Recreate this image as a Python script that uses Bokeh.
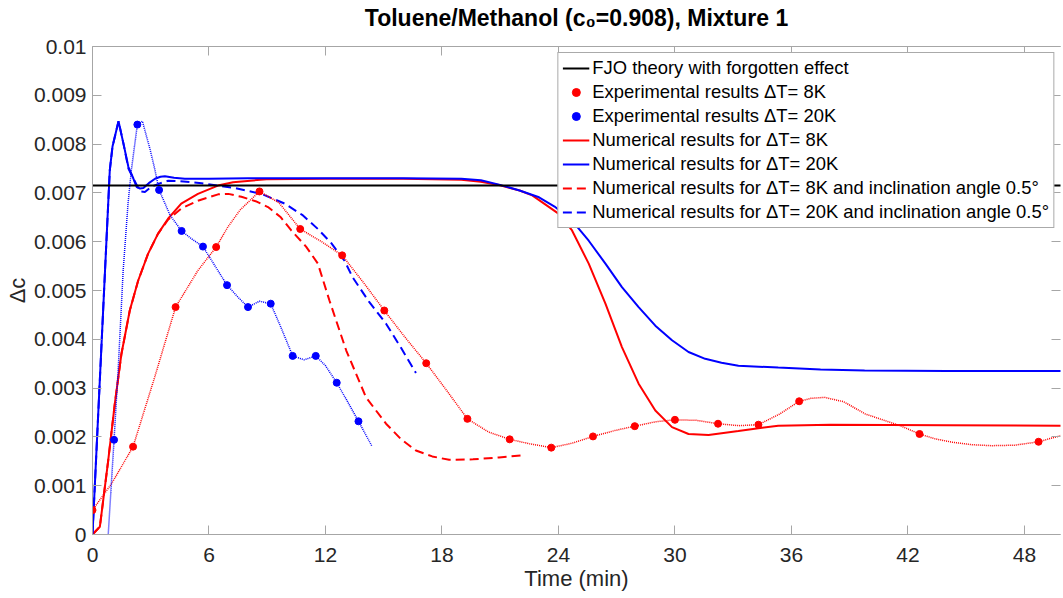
from bokeh.plotting import figure
from bokeh.models import (Range1d, LinearAxis, FixedTicker, NumeralTickFormatter, Legend,
                          LegendItem, CustomLabelingPolicy)
from bokeh.embed import file_html
from bokeh.resources import INLINE

# ---------------- data ----------------
title_text = "Toluene/Methanol (c\u2080=0.908), Mixture 1"
x_ticks = [0, 6, 12, 18, 24, 30, 36, 42, 48]
y_ticks = [0, 0.001, 0.002, 0.003, 0.004, 0.005, 0.006, 0.007, 0.008, 0.009, 0.01]

fjo_t = [0, 50]
fjo_c = [0.00715, 0.00715]

exp8_t = [0, 2.09, 4.28, 6.37, 8.6, 10.7, 12.86, 15.03, 17.19, 19.31, 21.49, 23.63,
          25.78, 27.93, 30.0, 32.22, 34.3, 36.4, 42.6, 48.73]
exp8_c = [0.0005, 0.0018, 0.00466, 0.00589, 0.00703, 0.00626, 0.00572, 0.00459, 0.00351,
          0.00237, 0.00195, 0.00178, 0.00201, 0.00222, 0.00235, 0.00227, 0.00225,
          0.00273, 0.00206, 0.0019]

exp8_trace_t = [0, 0.98, 2.09, 3.2, 4.28, 5.43, 6.37, 6.97, 7.6, 8.6, 9.6, 10.7, 11.8, 12.86,
                14.0, 15.03, 16.1, 17.19, 18.3, 19.31, 20.4, 21.49, 22.5, 23.63, 24.7, 25.78,
                26.9, 27.93, 29.0, 30.0, 31.1, 32.22, 33.3, 34.3, 35.4, 36.4, 37.0, 37.7,
                38.7, 39.8, 41.6, 42.6, 43.4, 44.3, 45.3, 46.3, 47.5, 48.73, 49.9]
exp8_trace_c = [0.0005, 0.00104, 0.0018, 0.00322, 0.00466, 0.00541, 0.00589, 0.0063, 0.00665,
                0.00703, 0.0068, 0.00626, 0.006, 0.00572, 0.00514, 0.00459, 0.00404, 0.00351,
                0.00292, 0.00237, 0.0021, 0.00195, 0.00186, 0.00178, 0.00187, 0.00201,
                0.00213, 0.00222, 0.00231, 0.00235, 0.00234, 0.00227, 0.00223, 0.00225,
                0.00247, 0.00273, 0.00279, 0.00281, 0.00272, 0.00247, 0.00223, 0.00206,
                0.00196, 0.00189, 0.00184, 0.00182, 0.00183, 0.0019, 0.00203]

exp20_t = [1.11, 2.31, 3.43, 4.59, 5.69, 6.93, 8.01, 9.18, 10.31, 11.5, 12.58, 13.7]
exp20_c = [0.00194, 0.0084, 0.00706, 0.00622, 0.0059, 0.00511, 0.00466, 0.00473, 0.00366,
           0.00366, 0.00311, 0.00232]

exp20_trace_t = [0.81, 1.11, 1.32, 1.58, 1.83, 2.0, 2.31, 2.57, 2.96, 3.2, 3.43, 4.0, 4.59,
                 5.1, 5.69, 6.3, 6.93, 7.5, 8.01, 8.6, 9.18, 9.7, 10.31, 10.9, 11.5, 12.0,
                 12.58, 13.1, 13.7, 14.38]
exp20_trace_c = [0.0, 0.00194, 0.00336, 0.00541, 0.00678, 0.00746, 0.0084, 0.00847, 0.0079,
                 0.0075, 0.00706, 0.00654, 0.00622, 0.00606, 0.0059, 0.00551, 0.00511, 0.00486,
                 0.00466, 0.00478, 0.00473, 0.00425, 0.00366, 0.00358, 0.00366, 0.00346,
                 0.00311, 0.00275, 0.00232, 0.00182]

num8_t = [0, 0.38, 0.81, 1.15, 1.49, 1.92, 2.35, 2.86, 3.37, 3.89, 4.57, 5.43, 6.46, 7.24,
          8.96, 12, 16, 19, 20.0, 20.94, 22.0, 22.65, 23.3, 24.02, 24.7, 25.56, 26.42, 27.27,
          28.13, 28.99, 29.85, 30.7, 31.73, 33.27, 35.32, 38, 44, 50]
num8_c = [0, 0.00016, 0.00152, 0.00268, 0.0037, 0.00459, 0.0052, 0.00575, 0.00616, 0.00647,
          0.00678, 0.00698, 0.00715, 0.00722, 0.00728, 0.00729, 0.00729, 0.00727, 0.00723,
          0.00716, 0.00705, 0.00695, 0.00677, 0.00657, 0.00623, 0.00555, 0.00473, 0.00384,
          0.00309, 0.00254, 0.0022, 0.00206, 0.00204, 0.00212, 0.00223, 0.00225, 0.00224,
          0.00223]

num20_t = [0, 0.89, 1.03, 1.34, 1.6, 1.85, 2.1, 2.28, 2.45, 2.62, 2.9, 3.22, 3.5, 3.73, 4.2,
           4.76, 6, 8, 12, 16, 19, 20.0, 20.94, 22.0, 23.0, 23.8, 24.7, 25.56, 26.42, 27.27,
           28.13, 28.99, 29.85, 30.7, 31.56, 32.4, 33.27, 35.32, 37.5, 39.77, 44, 50]
num20_c = [0, 0.00746, 0.00795, 0.00847, 0.008, 0.00753, 0.0073, 0.00712, 0.00709, 0.0071,
           0.0072, 0.00729, 0.00733, 0.00734, 0.00731, 0.00729, 0.00729, 0.0073, 0.0073,
           0.0073, 0.00729, 0.00726, 0.00717, 0.00705, 0.00691, 0.00672, 0.00643, 0.00602,
           0.00555, 0.00507, 0.00466, 0.00428, 0.00398, 0.00374, 0.0036, 0.00352, 0.00346,
           0.00342, 0.00338, 0.00336, 0.00335, 0.00335]

num8_incl_t = [0, 0.38, 0.81, 1.15, 1.49, 1.92, 2.35, 2.86, 3.37, 3.89, 4.57, 5.43, 6.47,
               7.0, 7.67, 8.4, 9.04, 9.7, 10.24, 11.0, 11.61, 12.2, 13.07, 14.09, 15.12,
               15.9, 16.66, 17.5, 18.37, 19.6, 20.94, 22.14]
num8_incl_c = [0, 0.00016, 0.00152, 0.00268, 0.0037, 0.00459, 0.0052, 0.00575, 0.00616,
               0.00645, 0.00668, 0.00684, 0.00697, 0.00698, 0.00692, 0.00683, 0.00671,
               0.0065, 0.00623, 0.0059, 0.00555, 0.0048, 0.00377, 0.00281, 0.00227, 0.00195,
               0.00172, 0.0016, 0.00153, 0.00154, 0.00158, 0.00162]

num20_incl_t = [0, 0.89, 1.03, 1.34, 1.6, 1.85, 2.1, 2.45, 2.7, 3.05, 3.5, 3.9, 4.5, 5.62,
                7.33, 8.7, 9.9, 10.8, 11.61, 12.3, 12.98, 13.4, 14.26, 15.12, 15.9, 16.66]
num20_incl_c = [0, 0.00746, 0.00795, 0.00847, 0.008, 0.0075, 0.0073, 0.00703, 0.00702,
                0.00713, 0.0072, 0.00725, 0.00724, 0.0072, 0.0071, 0.00698, 0.00678, 0.00655,
                0.00626, 0.00597, 0.00561, 0.00527, 0.00476, 0.00432, 0.00382, 0.00331]

# ---------------- styling ----------------
FONT = "Liberation Sans"
RED = "#ff0000"
BLUE = "#0000ff"
AXIS_COL = "#a6a6a6"
TXT_COL = "#262626"

p = figure(width=1063, height=598, output_backend="svg", toolbar_location=None,
           x_range=Range1d(0, 49.86), y_range=Range1d(0, 0.01),
           min_border_left=92, min_border_right=0, min_border_top=46, min_border_bottom=64)

p.xgrid.visible = False
p.ygrid.visible = False
p.outline_line_color = None
p.background_fill_color = "white"
p.border_fill_color = "white"

hide_labels = CustomLabelingPolicy(code="for (const i of indices) { indices.unset(i) }; return indices")

def style_axis(ax, labels=True):
    ax.axis_line_color = AXIS_COL
    ax.major_tick_line_color = AXIS_COL
    ax.minor_tick_line_color = None
    ax.major_tick_in = 9
    ax.major_tick_out = 0
    ax.major_label_text_font = FONT
    ax.major_label_text_color = TXT_COL
    if labels:
        ax.major_label_text_font_size = "21px"
    else:
        ax.major_label_text_font_size = "0.1px"
        ax.major_label_standoff = 0
        ax.major_label_policy = hide_labels

p.xaxis.ticker = FixedTicker(ticks=x_ticks)
p.yaxis.ticker = FixedTicker(ticks=y_ticks)
p.yaxis.formatter = NumeralTickFormatter(format="0.[000]")
style_axis(p.xaxis[0])
style_axis(p.yaxis[0])
p.xaxis.axis_label = "Time (min)"
p.yaxis.axis_label = "\u0394c"
for ax in (p.xaxis[0], p.yaxis[0]):
    ax.axis_label_text_font = FONT
    ax.axis_label_text_font_size = "22px"
    ax.axis_label_text_font_style = "normal"
    ax.axis_label_text_color = TXT_COL
p.xaxis.axis_label_standoff = 1
p.yaxis.axis_label_standoff = 1
p.xaxis.major_label_standoff = 13
p.yaxis.major_label_standoff = 6

# top box axis, which also carries the chart title as its label
top_ax = LinearAxis(ticker=FixedTicker(ticks=x_ticks))
style_axis(top_ax, labels=False)
top_ax.axis_label = title_text
top_ax.axis_label_text_font = FONT
top_ax.axis_label_text_font_size = "23px"
top_ax.axis_label_text_font_style = "bold"
top_ax.axis_label_text_color = "#000000"
top_ax.axis_label_standoff = 16
p.add_layout(top_ax, "above")

right_ax = LinearAxis(ticker=FixedTicker(ticks=y_ticks))
style_axis(right_ax, labels=False)
right_ax.axis_line_color = None
p.add_layout(right_ax, "right")

# ---------------- glyphs ----------------
r_n8 = p.line(num8_t, num8_c, line_color=RED, line_width=2)
r_n20 = p.line(num20_t, num20_c, line_color=BLUE, line_width=2)
r_n8i = p.line(num8_incl_t, num8_incl_c, line_color=RED, line_width=2, line_dash="9 5")
r_n20i = p.line(num20_incl_t, num20_incl_c, line_color=BLUE, line_width=2, line_dash="9 5")
r_fjo = p.line(fjo_t, fjo_c, line_color="#000000", line_width=2)
p.line(exp8_trace_t, exp8_trace_c, line_color=RED, line_width=1.5, line_dash="1 1")
p.line(exp20_trace_t, exp20_trace_c, line_color=BLUE, line_width=1.5, line_dash="1 1")
r_e8 = p.scatter(exp8_t, exp8_c, size=7, fill_color=RED, line_color=RED)
r_e20 = p.scatter(exp20_t, exp20_c, size=7, fill_color=BLUE, line_color=BLUE)

legend = Legend(items=[
    LegendItem(label="FJO theory with forgotten effect", renderers=[r_fjo]),
    LegendItem(label="Experimental results \u0394T= 8K", renderers=[r_e8]),
    LegendItem(label="Experimental results \u0394T= 20K", renderers=[r_e20]),
    LegendItem(label="Numerical results for \u0394T= 8K", renderers=[r_n8]),
    LegendItem(label="Numerical results for \u0394T= 20K", renderers=[r_n20]),
    LegendItem(label="Numerical results for \u0394T= 8K and inclination angle 0.5\u00b0", renderers=[r_n8i]),
    LegendItem(label="Numerical results for \u0394T= 20K and inclination angle 0.5\u00b0", renderers=[r_n20i]),
])
legend.location = "top_right"
legend.margin = 6
legend.padding = 4
legend.spacing = 2
legend.glyph_width = 27
legend.glyph_height = 20
legend.label_height = 20
legend.label_standoff = 3
legend.label_text_font = FONT
legend.label_text_font_size = "18.4px"
legend.label_text_color = "#000000"
legend.border_line_color = "#555555"
legend.border_line_width = 1
legend.background_fill_color = "white"
legend.background_fill_alpha = 1
p.add_layout(legend, "center")

open("out.html", "w").write(file_html(p, INLINE))
